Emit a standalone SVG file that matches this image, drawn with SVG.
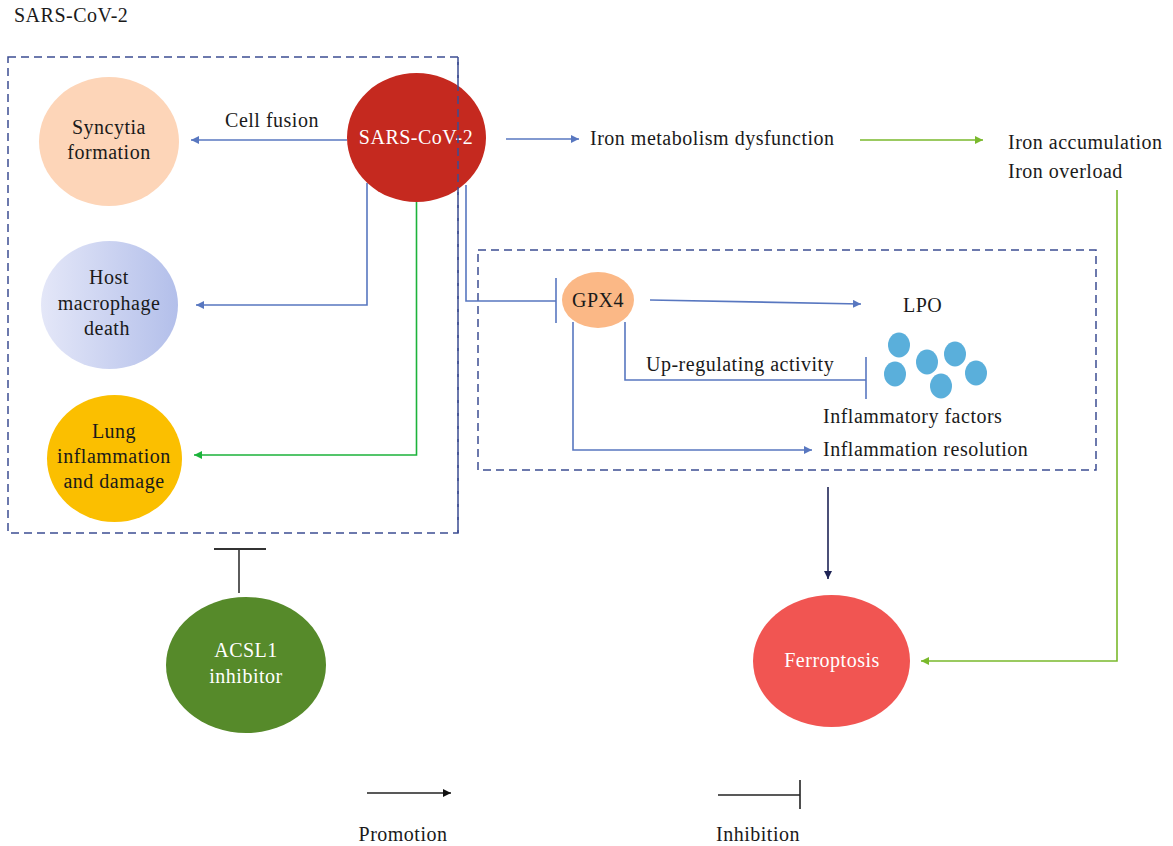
<svg xmlns="http://www.w3.org/2000/svg" width="1173" height="846" viewBox="0 0 1173 846">
<style>
text{font-family:"Liberation Serif","DejaVu Serif",serif;font-size:20px;letter-spacing:0.5px;fill:#1a1a1a}
.c{text-anchor:middle}
.w{fill:#ffffff}
.box{fill:none;stroke:#3d4d92;stroke-width:1.5;stroke-dasharray:8 5}
.bl{fill:none;stroke:#5877c0;stroke-width:1.6}
.gr{fill:none;stroke:#1cb33b;stroke-width:1.6}
.lg{fill:none;stroke:#7ab92c;stroke-width:1.6}
.nv{fill:none;stroke:#1e2456;stroke-width:1.6}
.bk{fill:none;stroke:#222;stroke-width:1.6}
.dot{fill:#5aafdb}
</style>
<defs>
<marker id="ab" viewBox="0 0 10 10" refX="10" refY="5" markerWidth="8" markerHeight="8" markerUnits="userSpaceOnUse" orient="auto"><path d="M0,0 L10,5 L0,10 z" fill="#5877c0"/></marker>
<marker id="ag" viewBox="0 0 10 10" refX="10" refY="5" markerWidth="8" markerHeight="8" markerUnits="userSpaceOnUse" orient="auto"><path d="M0,0 L10,5 L0,10 z" fill="#1cb33b"/></marker>
<marker id="al" viewBox="0 0 10 10" refX="10" refY="5" markerWidth="8" markerHeight="8" markerUnits="userSpaceOnUse" orient="auto"><path d="M0,0 L10,5 L0,10 z" fill="#7ab92c"/></marker>
<marker id="an" viewBox="0 0 10 10" refX="10" refY="5" markerWidth="8" markerHeight="8" markerUnits="userSpaceOnUse" orient="auto"><path d="M0,0 L10,5 L0,10 z" fill="#1e2456"/></marker>
<marker id="ak" viewBox="0 0 10 10" refX="10" refY="5" markerWidth="8" markerHeight="8" markerUnits="userSpaceOnUse" orient="auto"><path d="M0,0 L10,5 L0,10 z" fill="#111"/></marker>
<linearGradient id="hg" x1="0" y1="0" x2="1" y2="0"><stop offset="0" stop-color="#e4e7f8"/><stop offset="1" stop-color="#b3bfea"/></linearGradient>
</defs>
<rect width="1173" height="846" fill="#ffffff"/>
<text x="14" y="22">SARS-CoV-2</text>
<rect class="box" x="8" y="57" width="450" height="476"/>
<rect class="box" x="478" y="250" width="618" height="220"/>
<g id="connectors">
<line class="bl" x1="347" y1="140" x2="191" y2="140" marker-end="url(#ab)"/>
<polyline class="bl" points="367,183 367,305 196,305" marker-end="url(#ab)"/>
<polyline class="gr" points="416.5,202 416.5,455 194,455" marker-end="url(#ag)"/>
<polyline class="bl" points="466,185 466,301 556,301"/>
<line class="bl" x1="556" y1="278" x2="556" y2="323"/>
<line class="bl" x1="650" y1="300" x2="861" y2="304" marker-end="url(#ab)"/>
<polyline class="bl" points="625,322 625,380 866,380"/>
<line class="bl" x1="866" y1="357" x2="866" y2="399"/>
<polyline class="bl" points="573,322 573,450 812,450" marker-end="url(#ab)"/>
<line class="bl" x1="506" y1="139" x2="579" y2="139" marker-end="url(#ab)"/>
<line class="lg" x1="860" y1="140" x2="983" y2="140" marker-end="url(#al)"/>
<polyline class="lg" points="1117,190 1117,661 921,661" marker-end="url(#al)"/>
<line class="nv" x1="828" y1="487" x2="828" y2="579" marker-end="url(#an)"/>
<line x1="239" y1="549" x2="239" y2="593" stroke="#333" stroke-width="1.6"/>
<line x1="214" y1="549" x2="266" y2="549" stroke="#333" stroke-width="2"/>
</g>
<g id="syncytia"><ellipse cx="109" cy="141.5" rx="70" ry="64.5" fill="#fdd5b8"/><text class="c" x="109" y="134">Syncytia</text><text class="c" x="109" y="159">formation</text></g>
<g id="host"><ellipse cx="109.5" cy="305" rx="68.5" ry="64" fill="url(#hg)"/><text class="c" x="109" y="284">Host</text><text class="c" x="109" y="310">macrophage</text><text class="c" x="107" y="335">death</text></g>
<g id="lung"><ellipse cx="114.5" cy="458.5" rx="67.5" ry="63.5" fill="#fbbf00"/><text class="c" x="114" y="438">Lung</text><text class="c" x="114" y="463">inflammation</text><text class="c" x="114" y="488">and damage</text></g>
<g id="sars"><ellipse cx="416.5" cy="137.5" rx="69.5" ry="64.5" fill="#c5291f"/><text class="c w" x="416" y="144">SARS-CoV-2</text></g>
<line x1="458" y1="57" x2="458" y2="533" class="box"/>
<g id="cellfusion"><text class="c" x="272" y="127">Cell fusion</text></g>
<g id="gpx4"><ellipse cx="598" cy="300" rx="36" ry="28" fill="#fbb886"/><text class="c" x="598" y="307">GPX4</text></g>
<g id="lpo"><text x="903" y="312">LPO</text></g>
<g id="uplabel"><text x="646" y="371">Up-regulating activity</text></g>
<g id="inflam-factors">
<ellipse class="dot" cx="899" cy="345" rx="11" ry="12.5"/>
<ellipse class="dot" cx="895" cy="374" rx="11" ry="12.5"/>
<ellipse class="dot" cx="927" cy="362" rx="11" ry="12.5"/>
<ellipse class="dot" cx="955" cy="354" rx="11" ry="12.5"/>
<ellipse class="dot" cx="941" cy="386" rx="11" ry="12.5"/>
<ellipse class="dot" cx="976" cy="373" rx="11" ry="12.5"/>
<text x="823" y="423">Inflammatory factors</text>
</g>
<g id="resolution"><text x="823" y="456">Inflammation resolution</text></g>
<g id="ironmeta"><text x="590" y="145">Iron metabolism dysfunction</text></g>
<g id="ironacc"><text x="1008" y="149">Iron accumulation</text><text x="1008" y="178">Iron overload</text></g>
<g id="ferroptosis"><ellipse cx="831.5" cy="661" rx="78.5" ry="66" fill="#f15552"/><text class="c w" x="832" y="667">Ferroptosis</text></g>
<g id="acsl1"><ellipse cx="246" cy="665" rx="80" ry="68" fill="#568a2a"/><text class="c w" x="246" y="657">ACSL1</text><text class="c w" x="246" y="683">inhibitor</text></g>
<g id="legend">
<line class="bk" x1="367" y1="793" x2="451" y2="793" marker-end="url(#ak)"/>
<text class="c" x="403" y="841">Promotion</text>
<line class="bk" x1="718" y1="795" x2="800" y2="795"/>
<line class="bk" x1="800" y1="780" x2="800" y2="809"/>
<text class="c" x="758" y="841">Inhibition</text>
</g>
</svg>
